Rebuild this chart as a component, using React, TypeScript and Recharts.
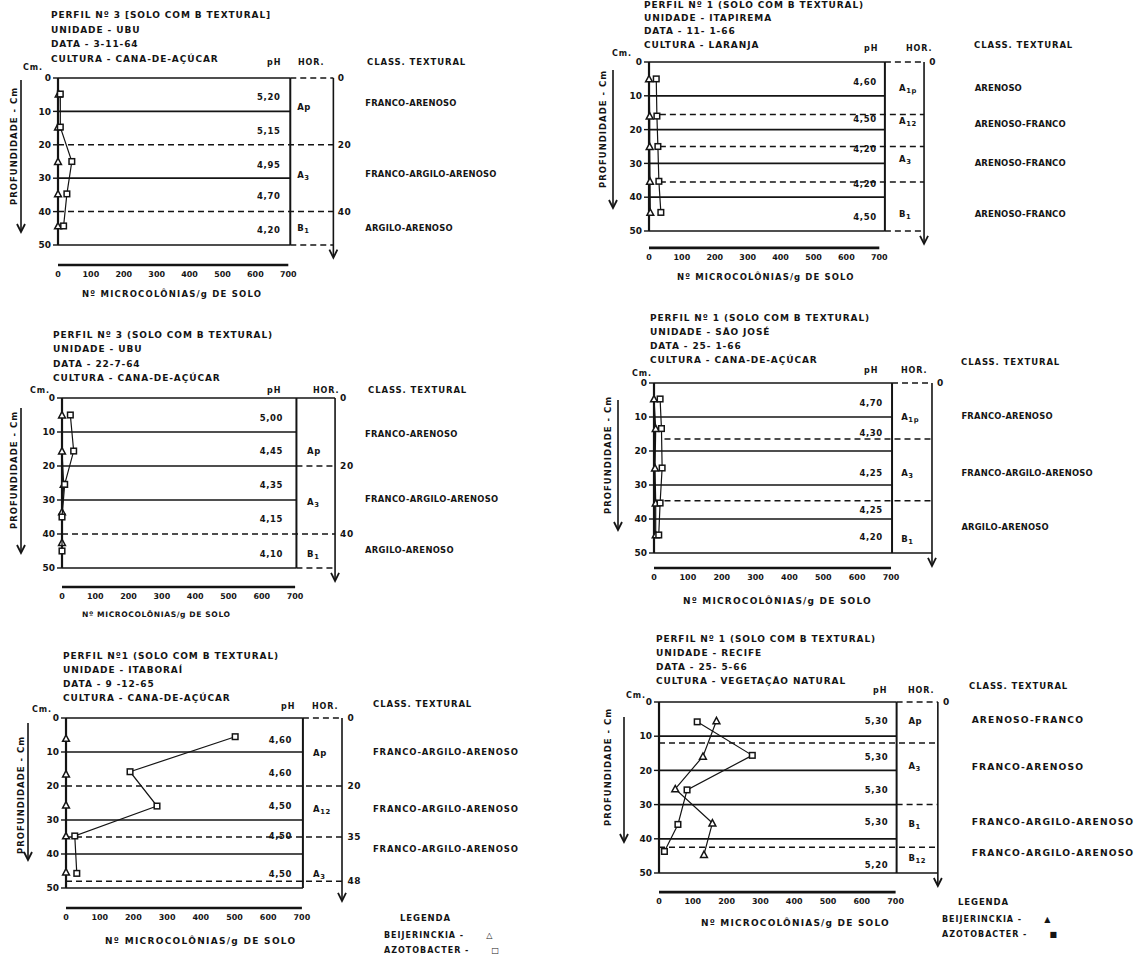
import React from "react";
import { ComposedChart, Scatter, XAxis, YAxis, ReferenceLine, ReferenceDot } from "recharts";

const INK = "#141414";
const FONT = "'DejaVu Sans', 'Liberation Sans', sans-serif";

const xTicks = [0, 100, 200, 300, 400, 500, 600, 700];
const depthTicks = [0, 10, 20, 30, 40, 50];

type Pt = { n: number; d: number };
type Lbl = [string, number];

// Perfil 3 - UBU (3-11-64)
const p1Beijerinckia: Pt[] = [{ n: 2, d: 4.8 }, { n: 0, d: 14.7 }, { n: 0, d: 25 }, { n: 0, d: 34.7 }, { n: 0, d: 44.3 }];
const p1Azotobacter: Pt[] = [{ n: 7, d: 4.8 }, { n: 7, d: 14.7 }, { n: 42, d: 25 }, { n: 27, d: 34.7 }, { n: 17, d: 44.3 }];
const p1Ph: Lbl[] = [["5,20", 5.6], ["5,15", 16], ["4,95", 26], ["4,70", 35.4], ["4,20", 45.5]];
const p1Hor: Lbl[] = [["Ap", 8.7], ["A_3", 29], ["B_1", 45]];
const p1Class: Lbl[] = [["FRANCO-ARENOSO", 7.5], ["FRANCO-ARGILO-ARENOSO", 28.7], ["ARGILO-ARENOSO", 44.9]];
const p1Right = [0, 20, 40];
const p1Titles = ["PERFIL Nº 3 [SOLO COM B TEXTURAL]", "UNIDADE - UBU", "DATA - 3-11-64", "CULTURA - CANA-DE-AÇÚCAR"];

// Perfil 1 - Itapirema (11-1-66)
const p2Beijerinckia: Pt[] = [{ n: 0, d: 5 }, { n: 2, d: 16 }, { n: 2, d: 25 }, { n: 3, d: 35.3 }, { n: 4, d: 44.5 }];
const p2Azotobacter: Pt[] = [{ n: 22, d: 5 }, { n: 24, d: 16 }, { n: 27, d: 25 }, { n: 30, d: 35.3 }, { n: 36, d: 44.5 }];
const p2Ph: Lbl[] = [["4,60", 5.9], ["4,50", 17], ["4,20", 25.6], ["4,20", 36], ["4,50", 46]];
const p2Hor: Lbl[] = [["A_1p", 7.8], ["A_12", 17.5], ["A_3", 28.7], ["B_1", 45]];
const p2Class: Lbl[] = [["ARENOSO", 7.6], ["ARENOSO-FRANCO", 18.2], ["ARENOSO-FRANCO", 30], ["ARENOSO-FRANCO", 45]];
const p2Right = [0];
const p2Titles = ["PERFIL Nº 1 (SOLO COM B TEXTURAL)", "UNIDADE - ITAPIREMA", "DATA - 11- 1-66", "CULTURA - LARANJA"];

// Perfil 3 - UBU (22-7-64)
const p3Beijerinckia: Pt[] = [{ n: 0, d: 5 }, { n: 0, d: 15.6 }, { n: 5, d: 25.4 }, { n: 0, d: 33.5 }, { n: 0, d: 42.5 }];
const p3Azotobacter: Pt[] = [{ n: 25, d: 5 }, { n: 35, d: 15.6 }, { n: 8, d: 25.4 }, { n: 0, d: 35 }, { n: 0, d: 45 }];
const p3Ph: Lbl[] = [["5,00", 5.8], ["4,45", 15.5], ["4,35", 25.6], ["4,15", 35.7], ["4,10", 46]];
const p3Hor: Lbl[] = [["Ap", 15.6], ["A_3", 30.5], ["B_1", 46]];
const p3Class: Lbl[] = [["FRANCO-ARENOSO", 10.6], ["FRANCO-ARGILO-ARENOSO", 29.7], ["ARGILO-ARENOSO", 44.7]];
const p3Right = [0, 20, 40];
const p3Titles = ["PERFIL Nº 3 (SOLO COM B TEXTURAL)", "UNIDADE - UBU", "DATA - 22-7-64", "CULTURA - CANA-DE-AÇÚCAR"];

// Perfil 1 - Sao Jose (25-1-66)
const p4Beijerinckia: Pt[] = [{ n: 0, d: 4.7 }, { n: 5, d: 13.4 }, { n: 3, d: 25 }, { n: 5, d: 35.3 }, { n: 5, d: 44.7 }];
const p4Azotobacter: Pt[] = [{ n: 18, d: 4.7 }, { n: 22, d: 13.4 }, { n: 24, d: 25 }, { n: 18, d: 35.3 }, { n: 14, d: 44.7 }];
const p4Ph: Lbl[] = [["4,70", 5.9], ["4,30", 14.6], ["4,25", 26.4], ["4,25", 37.4], ["4,20", 45.3]];
const p4Hor: Lbl[] = [["A_1p", 10], ["A_3", 26.5], ["B_1", 46]];
const p4Class: Lbl[] = [["FRANCO-ARENOSO", 9.7], ["FRANCO-ARGILO-ARENOSO", 26.5], ["ARGILO-ARENOSO", 42.4]];
const p4Right = [0];
const p4Titles = ["PERFIL Nº 1 (SOLO COM B TEXTURAL)", "UNIDADE - SÃO JOSÉ", "DATA - 25- 1-66", "CULTURA - CANA-DE-AÇÚCAR"];

// Perfil 1 - Itaborai (9-12-65)
const p5Beijerinckia: Pt[] = [{ n: 0, d: 6 }, { n: 0, d: 16.5 }, { n: 0, d: 25.6 }, { n: 0, d: 34.7 }, { n: 0, d: 45.3 }];
const p5Azotobacter: Pt[] = [{ n: 502, d: 5.5 }, { n: 190, d: 15.8 }, { n: 270, d: 25.9 }, { n: 26, d: 34.7 }, { n: 32, d: 45.7 }];
const p5Ph: Lbl[] = [["4,60", 6.5], ["4,60", 16.3], ["4,50", 25.9], ["4,50", 34.7], ["4,50", 45.9]];
const p5Hor: Lbl[] = [["Ap", 10.4], ["A_12", 26.7], ["A_3", 46]];
const p5Class: Lbl[] = [["FRANCO-ARGILO-ARENOSO", 10], ["FRANCO-ARGILO-ARENOSO", 26.8], ["FRANCO-ARGILO-ARENOSO", 38.5]];
const p5Right = [0, 20, 35, 48];
const p5Titles = ["PERFIL Nº1 (SOLO COM B TEXTURAL)", "UNIDADE - ITABORAÍ", "DATA - 9 -12-65", "CULTURA - CANA-DE-AÇÚCAR"];

// Perfil 1 - Recife (25-5-66)
const p6Beijerinckia: Pt[] = [{ n: 170, d: 5.5 }, { n: 130, d: 15.9 }, { n: 48, d: 25.4 }, { n: 158, d: 35.4 }, { n: 133, d: 44.6 }];
const p6Azotobacter: Pt[] = [{ n: 113, d: 5.8 }, { n: 276, d: 15.6 }, { n: 83, d: 25.7 }, { n: 56, d: 35.8 }, { n: 16, d: 43.7 }];
const p6Ph: Lbl[] = [["5,30", 5.5], ["5,30", 16], ["5,30", 25.6], ["5,30", 35], ["5,20", 47.6]];
const p6Hor: Lbl[] = [["Ap", 5.5], ["A_3", 18.7], ["B_1", 35.8], ["B_12", 45.6]];
const p6Class: Lbl[] = [["ARENOSO-FRANCO", 5], ["FRANCO-ARENOSO", 19], ["FRANCO-ARGILO-ARENOSO", 35], ["FRANCO-ARGILO-ARENOSO", 44]];
const p6Right = [0];
const p6Titles = ["PERFIL Nº 1 (SOLO COM B TEXTURAL)", "UNIDADE - RECIFE", "DATA - 25- 5-66", "CULTURA - VEGETAÇÃO NATURAL"];

interface Layout {
  x0: number; kx: number; y0: number; ky: number; ymax: number;
  frame: number; rightAxis: number; horX: number; classX: number; phX: number; rightLabelX: number; dashStart: number;
  plotSolid: number[]; fullSolid: number[]; fullDashed: number[]; horDashed: number[];
  titleX: number; titleY: number[]; cm: number[]; phHead: number[]; horHead: number[]; classHead: number[];
  xTitle: number[]; xTitleSize: number[]; yLabel: number[]; yArrow: number[]; classSize: number; classSpacing: number;
}

const L1: Layout = {
  x0: 57.7, kx: 0.329, y0: 78, ky: 3.34, ymax: 56, frame: 706, rightAxis: 837, horX: 727, classX: 934, phX: 676, rightLabelX: 850, dashStart: 0,
  plotSolid: [0, 10, 30, 50], fullSolid: [], fullDashed: [20, 40], horDashed: [0, 50],
  titleX: 51, titleY: [16, 30.5, 45, 60], cm: [23, 68], phHead: [267, 63], horHead: [298, 63], classHead: [367, 63],
  xTitle: [82, 295], xTitleSize: [8.5, 1.2], yLabel: [14, 146], yArrow: [21, 80, 232], classSize: 8.4, classSpacing: 0.2,
};
const L2: Layout = {
  x0: 649, kx: 0.329, y0: 62, ky: 3.38, ymax: 55, frame: 717, rightAxis: 836, horX: 760, classX: 990, phX: 692, rightLabelX: 852, dashStart: 33,
  plotSolid: [0, 10, 20, 30, 40, 50], fullSolid: [], fullDashed: [15.5, 25, 35.5], horDashed: [0, 50],
  titleX: 644, titleY: [6, 18.5, 32, 45.5], cm: [612, 54], phHead: [864, 49], horHead: [906, 49], classHead: [974, 46],
  xTitle: [677, 278], xTitleSize: [8.5, 1.1], yLabel: [603, 129], yArrow: [613, 70, 208], classSize: 8.5, classSpacing: 0.1,
};
const L3: Layout = {
  x0: 62, kx: 0.333, y0: 398, ky: 3.4, ymax: 55.6, frame: 704, rightAxis: 820, horX: 736, classX: 910, phX: 664, rightLabelX: 835, dashStart: 0,
  plotSolid: [10, 20, 30, 50], fullSolid: [0], fullDashed: [40], horDashed: [20, 50],
  titleX: 53, titleY: [336, 350, 365, 379], cm: [30, 391], phHead: [267, 391], horHead: [313, 391], classHead: [368, 391],
  xTitle: [82, 615], xTitleSize: [7.6, 0.6], yLabel: [14, 470], yArrow: [21, 408, 553], classSize: 8.4, classSpacing: 0.3,
};
const L4: Layout = {
  x0: 654, kx: 0.3386, y0: 383, ky: 3.4, ymax: 54.4, frame: 703, rightAxis: 821, horX: 730, classX: 908, phX: 676, rightLabelX: 836, dashStart: 31,
  plotSolid: [0, 10, 20, 30, 40], fullSolid: [50], fullDashed: [16.5, 34.6], horDashed: [0],
  titleX: 650, titleY: [319, 333, 347, 361], cm: [632, 374], phHead: [864, 371], horHead: [901, 371], classHead: [961, 363],
  xTitle: [683, 602], xTitleSize: [9, 1.2], yLabel: [608, 455], yArrow: [618, 400, 530], classSize: 8.4, classSpacing: 0.2,
};
const L5: Layout = {
  x0: 66, kx: 0.337, y0: 718, ky: 3.4, ymax: 55.9, frame: 703, rightAxis: 819, horX: 733, classX: 911, phX: 671, rightLabelX: 835, dashStart: 0,
  plotSolid: [0, 10, 30, 40, 50], fullSolid: [], fullDashed: [20, 35, 48], horDashed: [0],
  titleX: 63, titleY: [657, 671, 685, 699], cm: [32, 710], phHead: [281, 707], horHead: [312, 707], classHead: [373, 705],
  xTitle: [105, 942], xTitleSize: [9, 1.3], yLabel: [21, 795], yArrow: [28, 723, 860], classSize: 8.5, classSpacing: 0.8,
};
const L6: Layout = {
  x0: 659, kx: 0.338, y0: 702, ky: 3.42, ymax: 55.6, frame: 703, rightAxis: 825, horX: 738, classX: 925, phX: 678, rightLabelX: 840, dashStart: 0,
  plotSolid: [0, 10, 20, 30, 40], fullSolid: [50], fullDashed: [12, 42.5], horDashed: [0, 30],
  titleX: 656, titleY: [640, 654, 668, 682], cm: [626, 696], phHead: [873, 691], horHead: [908, 691], classHead: [969, 687],
  xTitle: [701, 924], xTitleSize: [9, 1.2], yLabel: [608, 767], yArrow: [624, 717, 842], classSize: 9.2, classSpacing: 1.1,
};

const XMAX = 1000;
const Y_AXIS_W = 34;
const M_TOP = 12;
const M_RIGHT = 200;
const X_AXIS_H = 30;

const Tri = (p: any) => {
  const { cx, cy } = p;
  const s = 3.4;
  return <path d={`M${cx},${cy - s} L${cx + s},${cy + s * 0.85} L${cx - s},${cy + s * 0.85} Z`} fill="#fff" stroke={INK} strokeWidth={1.5} />;
};
const Sq = (p: any) => <rect x={p.cx - 2.8} y={p.cy - 2.8} width={5.6} height={5.6} fill="#fff" stroke={INK} strokeWidth={1.5} />;

const textShape = (anchor: "start" | "end" | "middle", size: number, sub = false, spacing = 0.6) => (p: any) => {
  const raw: string = p.payload.t;
  const [main, low] = sub ? raw.split("_") : [raw, undefined];
  return (
    <text x={p.cx} y={p.cy} textAnchor={anchor} dominantBaseline="central" fontSize={size} fontWeight={700} fill={INK} fontFamily={FONT} letterSpacing={spacing}>
      {main}
      {low ? <tspan dy={3} fontSize={size * 0.8}>{low}</tspan> : null}
    </text>
  );
};

const arrowHead = (p: any) => {
  const { cx, cy } = p;
  return <path d={`M${cx - 4},${cy - 8} L${cx},${cy} L${cx + 4},${cy - 8}`} fill="none" stroke={INK} strokeWidth={1.8} />;
};

function Txt({ x, y, s = 9, ls = 0.9, children }: { x: number; y: number; s?: number; ls?: number; children: React.ReactNode }) {
  return (
    <div style={{ position: "absolute", left: x, top: y - s * 0.65, fontSize: s, lineHeight: `${s * 1.3}px`, fontWeight: 700, whiteSpace: "nowrap", letterSpacing: ls }}>
      {children}
    </div>
  );
}

function Panel({ L, beij, azot, ph, hor, cls, right, titles }: { L: Layout; beij: Pt[]; azot: Pt[]; ph: Lbl[]; hor: Lbl[]; cls: Lbl[]; right: number[]; titles: string[] }) {
  const plotW = L.kx * XMAX;
  const plotH = L.ky * L.ymax;
  const W = Y_AXIS_W + plotW + M_RIGHT;
  const H = M_TOP + plotH + X_AXIS_H;
  const phData = ph.map(([t, d]) => ({ n: L.phX, d, t }));
  const horData = hor.map(([t, d]) => ({ n: L.horX, d, t }));
  const clsData = cls.map(([t, d]) => ({ n: L.classX, d, t }));
  const rightData = right.map((d) => ({ n: L.rightLabelX, d, t: String(d) }));
  const line = (a: number, b: number, d: number, dashed: boolean, key: string) => (
    <ReferenceLine key={key} segment={[{ x: a, y: d }, { x: b, y: d }]} stroke={INK} strokeWidth={dashed ? 1.5 : 1.7} strokeDasharray={dashed ? "6 4" : undefined} />
  );
  const [ax, ay1, ay2] = L.yArrow;
  return (
    <>
      <div style={{ position: "absolute", left: L.x0 - Y_AXIS_W, top: L.y0 - M_TOP }}>
        <ComposedChart width={W} height={H} margin={{ top: M_TOP, right: M_RIGHT, left: 0, bottom: 0 }}>
          <XAxis type="number" dataKey="n" domain={[0, XMAX]} ticks={xTicks} interval={0} axisLine={false} tickLine={false} tickSize={4} height={X_AXIS_H}
            tick={{ fontSize: 8, fontWeight: 700, fill: INK, fontFamily: FONT }} />
          <YAxis type="number" dataKey="d" domain={[0, L.ymax]} reversed ticks={depthTicks} interval={0} axisLine={false} width={Y_AXIS_W}
            tickSize={5} tickMargin={2} tickLine={{ stroke: INK, strokeWidth: 1.4 }} tick={{ fontSize: 9, fontWeight: 700, fill: INK, fontFamily: FONT }} />
          {L.plotSolid.map((d, i) => line(0, L.frame, d, false, `ps${i}`))}
          {L.fullSolid.map((d, i) => line(0, L.rightAxis, d, false, `fs${i}`))}
          {L.fullDashed.map((d, i) => line(L.dashStart, L.rightAxis, d, true, `fd${i}`))}
          {L.horDashed.map((d, i) => line(L.frame, L.rightAxis, d, true, `hd${i}`))}
          <ReferenceLine segment={[{ x: 0, y: 0 }, { x: 0, y: 50 }]} stroke={INK} strokeWidth={2.2} />
          <ReferenceLine segment={[{ x: L.frame, y: 0 }, { x: L.frame, y: 50 }]} stroke={INK} strokeWidth={2} />
          <ReferenceLine segment={[{ x: L.rightAxis, y: 0 }, { x: L.rightAxis, y: 53.5 }]} stroke={INK} strokeWidth={1.6} />
          <ReferenceDot x={L.rightAxis} y={53.8} r={0} shape={arrowHead} />
          <ReferenceLine segment={[{ x: 0, y: L.ymax }, { x: 700, y: L.ymax }]} stroke={INK} strokeWidth={2.6} />
          <Scatter data={beij} line={{ stroke: INK, strokeWidth: 1.2 }} shape={Tri} isAnimationActive={false} />
          <Scatter data={azot} line={{ stroke: INK, strokeWidth: 1.2 }} shape={Sq} isAnimationActive={false} />
          <Scatter data={phData} shape={textShape("end", 8.5)} isAnimationActive={false} />
          <Scatter data={horData} shape={textShape("start", 8.5, true)} isAnimationActive={false} />
          <Scatter data={clsData} shape={textShape("start", L.classSize, false, L.classSpacing)} isAnimationActive={false} />
          <Scatter data={rightData} shape={textShape("start", 9)} isAnimationActive={false} />
        </ComposedChart>
      </div>
      {titles.map((t, i) => (
        <Txt key={i} x={L.titleX} y={L.titleY[i]}>{t}</Txt>
      ))}
      <Txt x={L.cm[0]} y={L.cm[1]} s={8}>Cm.</Txt>
      <Txt x={L.phHead[0]} y={L.phHead[1]} s={8}>pH</Txt>
      <Txt x={L.horHead[0]} y={L.horHead[1]} s={8}>HOR.</Txt>
      <Txt x={L.classHead[0]} y={L.classHead[1]} s={8.5}>CLASS. TEXTURAL</Txt>
      <Txt x={L.xTitle[0]} y={L.xTitle[1]} s={L.xTitleSize[0]} ls={L.xTitleSize[1]}>Nº MICROCOLÔNIAS/g DE SOLO</Txt>
      <div style={{ position: "absolute", left: L.yLabel[0], top: L.yLabel[1], transform: "translate(-50%, -50%) rotate(-90deg)", fontSize: 8.5, fontWeight: 700, whiteSpace: "nowrap", letterSpacing: 1 }}>
        PROFUNDIDADE - Cm
      </div>
      <svg style={{ position: "absolute", left: ax - 6, top: ay1, overflow: "visible" }} width={12} height={ay2 - ay1}>
        <line x1={6} y1={0} x2={6} y2={ay2 - ay1} stroke={INK} strokeWidth={1.6} />
        <path d={`M2,${ay2 - ay1 - 8} L6,${ay2 - ay1} L10,${ay2 - ay1 - 8}`} fill="none" stroke={INK} strokeWidth={1.8} />
      </svg>
    </>
  );
}

function Legend({ x, y, filled }: { x: number; y: number; filled: boolean }) {
  const mark = (sym: string) => <span style={{ display: "inline-block", marginLeft: 22, fontSize: 8 }}>{sym}</span>;
  return (
    <>
      <Txt x={x + 16} y={y} s={8.5}>LEGENDA</Txt>
      <Txt x={x} y={y + 17} s={8} ls={1}>BEIJERINCKIA -{mark(filled ? "▲" : "△")}</Txt>
      <Txt x={x} y={y + 32} s={8} ls={1}>AZOTOBACTER -{mark(filled ? "■" : "□")}</Txt>
    </>
  );
}

export default function App() {
  return (
    <div style={{ position: "relative", width: 1135, height: 960, overflow: "hidden", background: "#fff", color: INK, fontFamily: FONT }}>
      <style>{`body{margin:0}`}</style>
      <Panel L={L1} beij={p1Beijerinckia} azot={p1Azotobacter} ph={p1Ph} hor={p1Hor} cls={p1Class} right={p1Right} titles={p1Titles} />
      <Panel L={L2} beij={p2Beijerinckia} azot={p2Azotobacter} ph={p2Ph} hor={p2Hor} cls={p2Class} right={p2Right} titles={p2Titles} />
      <Panel L={L3} beij={p3Beijerinckia} azot={p3Azotobacter} ph={p3Ph} hor={p3Hor} cls={p3Class} right={p3Right} titles={p3Titles} />
      <Panel L={L4} beij={p4Beijerinckia} azot={p4Azotobacter} ph={p4Ph} hor={p4Hor} cls={p4Class} right={p4Right} titles={p4Titles} />
      <Panel L={L5} beij={p5Beijerinckia} azot={p5Azotobacter} ph={p5Ph} hor={p5Hor} cls={p5Class} right={p5Right} titles={p5Titles} />
      <Panel L={L6} beij={p6Beijerinckia} azot={p6Azotobacter} ph={p6Ph} hor={p6Hor} cls={p6Class} right={p6Right} titles={p6Titles} />
      <Legend x={384} y={919} filled={false} />
      <Legend x={942} y={903} filled={true} />
    </div>
  );
}
